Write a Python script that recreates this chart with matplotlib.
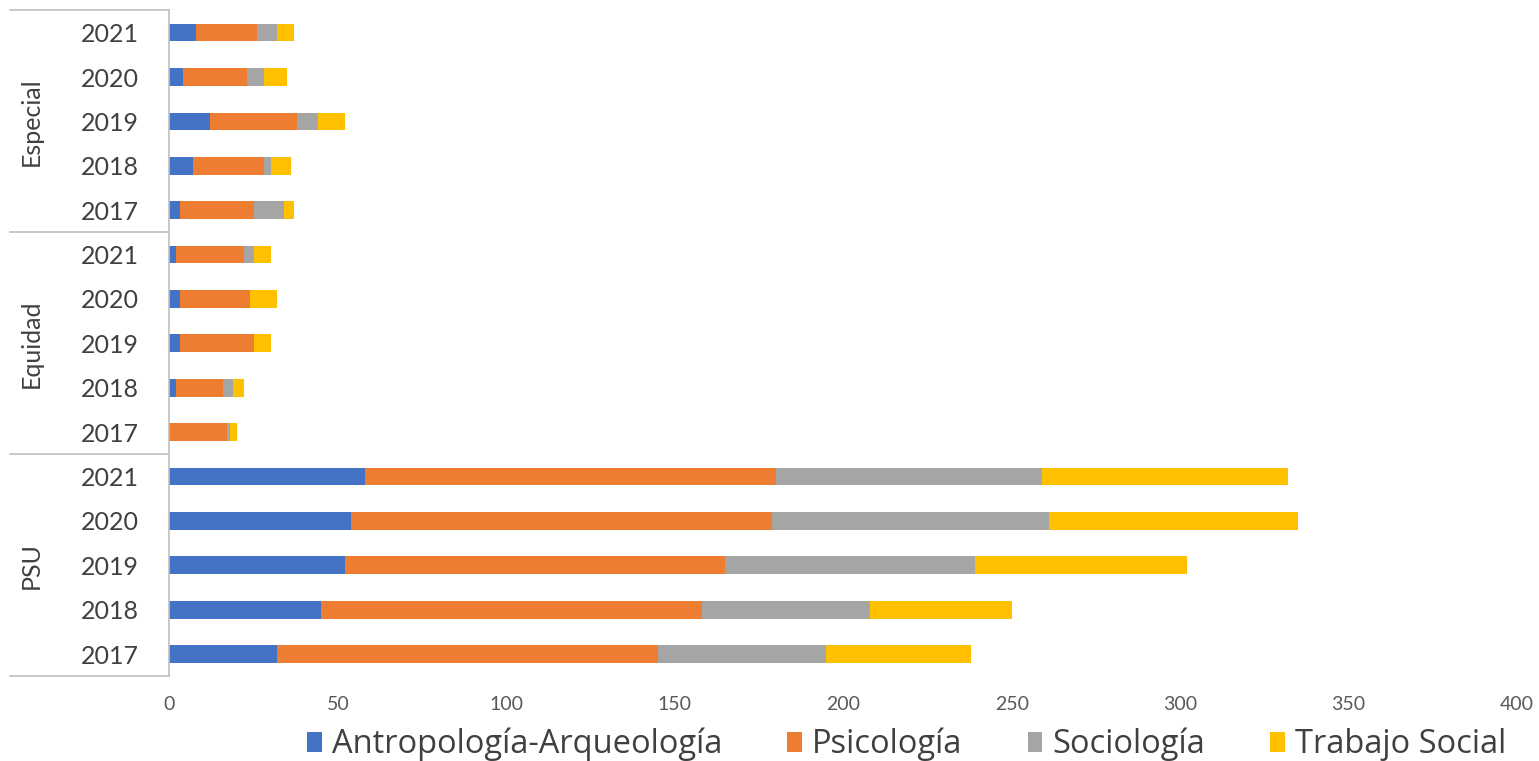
import matplotlib.pyplot as plt
import matplotlib.transforms as mtransforms
from matplotlib.lines import Line2D

plt.rcParams['font.family'] = ['Lato', 'DejaVu Sans']

# Data (rows bottom to top: PSU, Equidad, Especial; years 2017-2021)
groups = ["PSU", "Equidad", "Especial"]
years = ["2017", "2018", "2019", "2020", "2021"]
series = ["Antropología-Arqueología", "Psicología", "Sociología", "Trabajo Social"]
colors = ["#4472C4", "#ED7D31", "#A5A5A5", "#FFC000"]

antropologia = [32, 45, 52, 54, 58,  0, 2, 3, 3, 2,  3, 7, 12, 4, 8]
psicologia = [113, 113, 113, 125, 122,  17, 14, 22, 21, 20,  22, 21, 26, 19, 18]
sociologia = [50, 50, 74, 82, 79,  1, 3, 0, 0, 3,  9, 2, 6, 5, 6]
trabajo_social = [43, 42, 63, 74, 73,  2, 3, 5, 8, 5,  3, 6, 8, 7, 5]
values = [antropologia, psicologia, sociologia, trabajo_social]

row_labels = years * len(groups)
ypos = list(range(len(row_labels)))

fig = plt.figure(figsize=(15.39, 7.61), dpi=100)
ax = fig.add_axes([0.1101, 0.1114, 0.8756, 0.8749])

left = [0] * len(ypos)
for name, vals, col in zip(series, values, colors):
    ax.barh(ypos, vals, left=left, height=0.4, color=col, label=name)
    left = [a + b for a, b in zip(left, vals)]

ax.set_xlim(0, 400)
ax.set_ylim(-0.5, len(ypos) - 0.5)
ax.set_xticks(range(0, 401, 50))
ax.tick_params(axis='x', length=0, labelsize=14, labelcolor='#595959', pad=14)
ax.set_yticks(ypos)
ax.set_yticklabels(row_labels)
ax.tick_params(axis='y', length=0, labelsize=18, labelcolor='#404040', pad=22)

for s in ['top', 'right', 'bottom']:
    ax.spines[s].set_visible(False)
ax.spines['left'].set_color('#BFBFBF')
ax.spines['left'].set_linewidth(1.2)

# group separators and labels of the two-level category axis
trans = mtransforms.blended_transform_factory(fig.transFigure, ax.transData)
for b in [-0.5, 4.5, 9.5, 14.5]:
    fig.add_artist(Line2D([0.0065, 0.1101], [b, b], transform=trans,
                          color='#BFBFBF', linewidth=1.2))
for i, g in enumerate(groups):
    fig.text(0.0205, 5 * i + 2, g, transform=trans, rotation=90,
             ha='center', va='center', fontsize=18, color='#404040')

leg = ax.legend(loc='lower center', bbox_to_anchor=(0.547, -0.172), ncol=4,
                frameon=False, handlelength=0.45, handleheight=0.55,
                handletextpad=0.3, columnspacing=2.0,
                prop={'family': ['Open Sans', 'DejaVu Sans'], 'size': 23.5})
for t in leg.get_texts():
    t.set_color('#404040')

fig.savefig('out.png', dpi=100)
